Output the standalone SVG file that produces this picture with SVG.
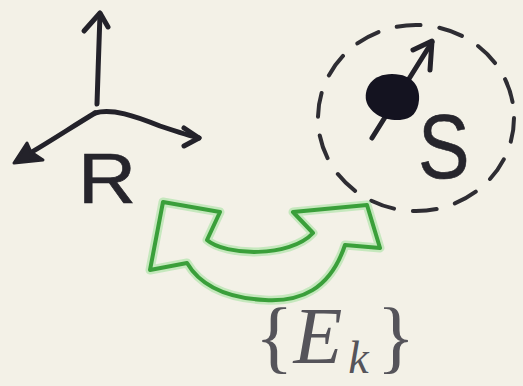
<svg xmlns="http://www.w3.org/2000/svg" width="523" height="386" viewBox="0 0 523 386">
  <style>
    .ink { fill: none; stroke: #23222a; stroke-width: 5; stroke-linecap: round; stroke-linejoin: round; }
    .hand { font-family: "Liberation Sans", "DejaVu Sans", sans-serif; fill: #26252c; stroke: #26252c; stroke-width: 0.6; }
    .dash { fill: none; stroke: #2e2d33; stroke-width: 4; stroke-dasharray: 24 19; stroke-linecap: round; }
    .glow { fill: none; stroke: #9fe09a; stroke-width: 9; stroke-linejoin: round; opacity: 0.55; }
    .green { fill: none; stroke: #3a9f3a; stroke-width: 4; stroke-linejoin: round; }
    .tex { font-family: "Liberation Serif", "DejaVu Serif", serif; fill: #55545a; }
  </style>
  <rect x="0" y="0" width="523" height="386" fill="#f3f1e7"/>

  <g id="node-R">
    <path class="ink" d="M97 104 C98 75 99 40 100 14"/>
    <path class="ink" d="M84 31 L100 13 L108 27"/>
    <path class="ink" d="M95 113 C112 108 135 116 160 126 C178 132 190 136 199 138"/>
    <path class="ink" d="M184 128 L199 138 L184 146"/>
    <path class="ink" d="M95 113 C70 128 45 145 18 160"/>
    <path d="M14 163 L27 143 L31 152 L43 160 Z" fill="#23222a" stroke="#23222a" stroke-width="3" stroke-linejoin="round"/>
    <text class="hand" transform="translate(78 203) scale(1.15 1)" x="0" y="0" font-size="70">R</text>
  </g>

  <g id="node-S">
    <ellipse class="dash" cx="416" cy="118" rx="98" ry="93"/>
    <path class="ink" d="M372 138 L432 42"/>
    <path class="ink" d="M413 50 L432 41 L430 70"/>
    <path d="M392 74 C372 74 364 88 366 100 C369 113 384 121 400 120 C412 119 418 112 419 100 C420 88 414 74 392 74 Z" fill="#141320"/>
    <text class="hand" transform="translate(418 178) scale(0.86 1)" x="0" y="0" font-size="90">S</text>
  </g>

  <g id="connectors">
    <path class="glow" d="M163 202 L220 212 L207 240 C225 256 290 258 313 233 L293 212 L367 205 L380 248 L345 245 C330 290 300 302 265 300 C225 298 200 285 187 263 L150 270 Z"/>
    <path class="green" d="M163 202 L220 212 L207 240 C225 256 290 258 313 233 L293 212 L367 205 L380 248 L345 245 C330 290 300 302 265 300 C225 298 200 285 187 263 L150 270 Z"/>
  </g>

  <g id="label-Ek">
    <text class="tex" x="255" y="363" font-size="80">{<tspan font-style="italic">E</tspan><tspan font-style="italic" font-size="46" dx="6" dy="10">k</tspan><tspan dx="8" dy="-10">}</tspan></text>
  </g>
</svg>
